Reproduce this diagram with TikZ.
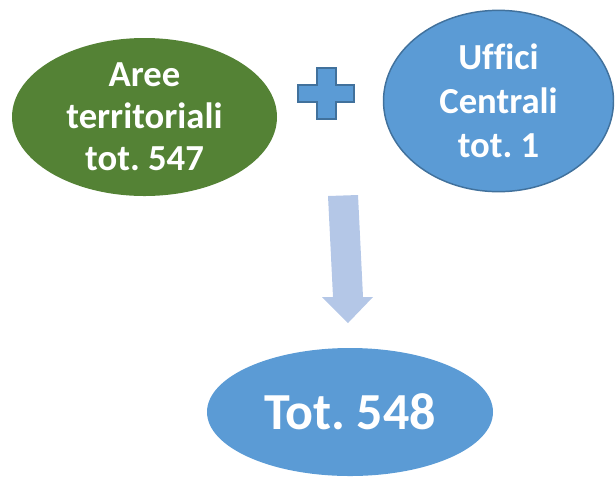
\documentclass[tikz,border=0pt]{standalone}
\usepackage{fontspec}
\setmainfont[Ligatures=CommonOff]{Carlito}
\frenchspacing
\usetikzlibrary{shapes.geometric}
\definecolor{clrGreen}{HTML}{548235}
\definecolor{clrBlue}{HTML}{5B9BD5}
\definecolor{clrEdge}{HTML}{41719C}
\definecolor{clrArrow}{HTML}{B4C7E7}
\begin{document}
\begin{tikzpicture}[x=0.75pt,y=0.75pt,yscale=-1,
		bubble/.style={ellipse,inner sep=0pt,text=white,align=center,font=\bfseries\fontsize{27.5}{31.5}\selectfont}]
		\useasboundingbox (0,0) rectangle (616,476);
		
		%Shape: Ellipse [id:aree]
		\node [bubble,fill=clrGreen,minimum width=198.75pt,minimum height=118.5pt] (areeTerr) at (144.5,117) {Aree\\territoriali\\tot. 547};
		%Shape: Ellipse [id:uffici]
		\node [bubble,fill=clrBlue,draw=clrEdge,line width=1.1pt,minimum width=172.5pt,minimum height=136pt,font=\bfseries\fontsize{27.5}{33}\selectfont] (ufficiCentr) at (498.5,101) {Uffici\\Centrali\\tot. 1};
		%Shape: Ellipse [id:totale]
		\node [bubble,fill=clrBlue,minimum width=214.5pt,minimum height=96pt,font=\bfseries\fontsize{39}{44}\selectfont] (totale) at (350,412) {Tot. 548};
		
		%Shape: Plus [id:plus]
		\draw [fill=clrBlue,draw=clrEdge,line width=1.1pt] (317,68) -- (336,68) -- (336,85) -- (354,85) -- (354,102) -- (336,102) -- (336,119) -- (317,119) -- (317,102) -- (298,102) -- (298,85) -- (317,85) -- cycle ;
		
		%Shape: Down Arrow [id:freccia]
		\fill [clrArrow] (328,196) -- (358,195) -- (363,297) -- (373,297) -- (348,323) -- (322,297) -- (333,297) -- cycle ;
	\end{tikzpicture}
\end{document}
